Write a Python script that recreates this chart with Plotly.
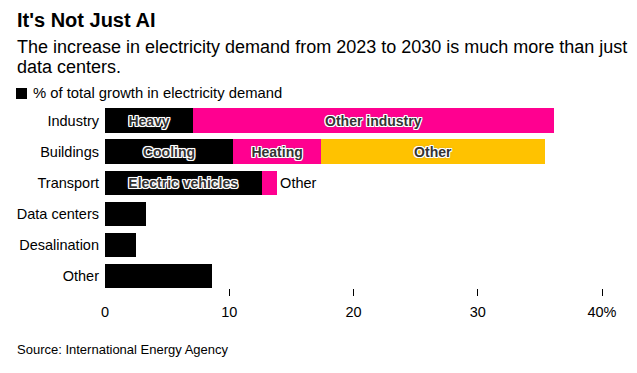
import plotly.graph_objects as go

categories = ["Industry", "Buildings", "Transport", "Data centers", "Desalination", "Other"]
seg1_values = [7.1, 10.3, 12.6, 3.3, 2.5, 8.6]
seg1_labels = ["Heavy", "Cooling", "Electric vehicles", "", "", ""]
seg2_cats = ["Industry", "Buildings", "Transport"]
seg2_values = [29.0, 7.1, 1.25]
seg2_labels = ["Other industry", "Heating", "Other"]
seg3_cats = ["Buildings"]
seg3_values = [18.0]
seg3_labels = ["Other"]
x_tickvals = [0, 10, 20, 30, 40]
x_ticktext = ["0", "10", "20", "30", "40%"]
x_minor_ticks = [10, 20, 30, 40]

W, H = 637, 373
L, R, T, B = 105, 35, 105, 85
PW, PH = W - L - R, H - T - B

FONT = "Liberation Sans, Arial, Helvetica, sans-serif"
HALO = ("1px 0 0 #fff, -1px 0 0 #fff, 0 1px 0 #fff, 0 -1px 0 #fff, "
        "1px 1px 0 #fff, -1px -1px 0 #fff, 1px -1px 0 #fff, -1px 1px 0 #fff, 0 0 3px #777")
inside_font = dict(family=FONT, size=14, color="#333", weight=600, shadow=HALO)
outside_font = dict(family=FONT, size=14.5, color="#000", weight=400, shadow="none")

BLACK, MAGENTA, YELLOW = "#000000", "#FF0090", "#FFC200"


def px_x(px):
    return (px - L) / PW


def px_y(py):
    return (H - B - py) / PH


fig = go.Figure()
fig.add_trace(go.Bar(
    y=categories, x=seg1_values, orientation="h", marker=dict(color=BLACK, line=dict(width=0)),
    text=seg1_labels, textposition="inside", insidetextanchor="middle", textangle=0,
    constraintext="none", insidetextfont=inside_font, width=0.79, showlegend=False,
    hoverinfo="skip",
))
fig.add_trace(go.Bar(
    y=seg2_cats, x=seg2_values, orientation="h", marker=dict(color=MAGENTA, line=dict(width=0)),
    text=seg2_labels, textposition=["inside", "inside", "outside"], insidetextanchor="middle",
    textangle=0, constraintext="none", insidetextfont=inside_font, outsidetextfont=outside_font,
    width=0.79, showlegend=False, cliponaxis=False, hoverinfo="skip",
))
fig.add_trace(go.Bar(
    y=seg3_cats, x=seg3_values, orientation="h", marker=dict(color=YELLOW, line=dict(width=0)),
    text=seg3_labels, textposition="inside", insidetextanchor="middle", textangle=0,
    constraintext="none", insidetextfont=inside_font, width=0.79, showlegend=False,
    hoverinfo="skip",
))

annotations = [
    dict(text="<b>It's Not Just AI</b>", x=px_x(15), y=px_y(20), font=dict(size=20, color="#000")),
    dict(text="The increase in electricity demand from 2023 to 2030 is much more than just",
         x=px_x(15), y=px_y(47), font=dict(size=18, color="#000")),
    dict(text="data centers.", x=px_x(15), y=px_y(67), font=dict(size=18, color="#000")),
    dict(text="% of total growth in electricity demand", x=px_x(31), y=px_y(93),
         font=dict(size=14.8, color="#000")),
    dict(text="Source: International Energy Agency", x=px_x(15), y=px_y(349),
         font=dict(size=13, color="#000")),
]
for a in annotations:
    a.update(xref="paper", yref="paper", xanchor="left", yanchor="middle", showarrow=False)
    a["font"]["family"] = FONT

fig.update_layout(
    width=W, height=H, barmode="stack", bargap=0.21,
    margin=dict(l=L, r=R, t=T, b=B, pad=0, autoexpand=False),
    paper_bgcolor="#fff", plot_bgcolor="#fff",
    font=dict(family=FONT, size=14, color="#000"),
    annotations=annotations,
    shapes=[dict(type="rect", xref="paper", yref="paper",
                 x0=px_x(16), x1=px_x(27), y0=px_y(99), y1=px_y(88),
                 fillcolor="#000", line=dict(width=0))],
)
fig.update_xaxes(
    range=[0, 40], tickvals=x_tickvals, ticktext=x_ticktext, ticks="",
    showgrid=False, zeroline=False, showline=False, ticklabelstandoff=13,
    tickfont=dict(size=14.5, color="#000"), automargin=False,
    minor=dict(tickmode="array", tickvals=x_minor_ticks, ticks="outside", ticklen=7,
               tickwidth=1, tickcolor="#000", showgrid=False),
    fixedrange=True,
)
fig.update_yaxes(
    categoryorder="array", categoryarray=categories, range=[5.38, -0.5],
    showgrid=False, zeroline=False, showline=False, ticks="", ticklabelstandoff=5,
    tickfont=dict(size=14.5, color="#000"), fixedrange=True, automargin=False,
)

fig.write_html(
    "out.html",
    config=dict(displayModeBar=False),
    post_script="document.body.style.margin='0';document.body.style.padding='0';",
)
